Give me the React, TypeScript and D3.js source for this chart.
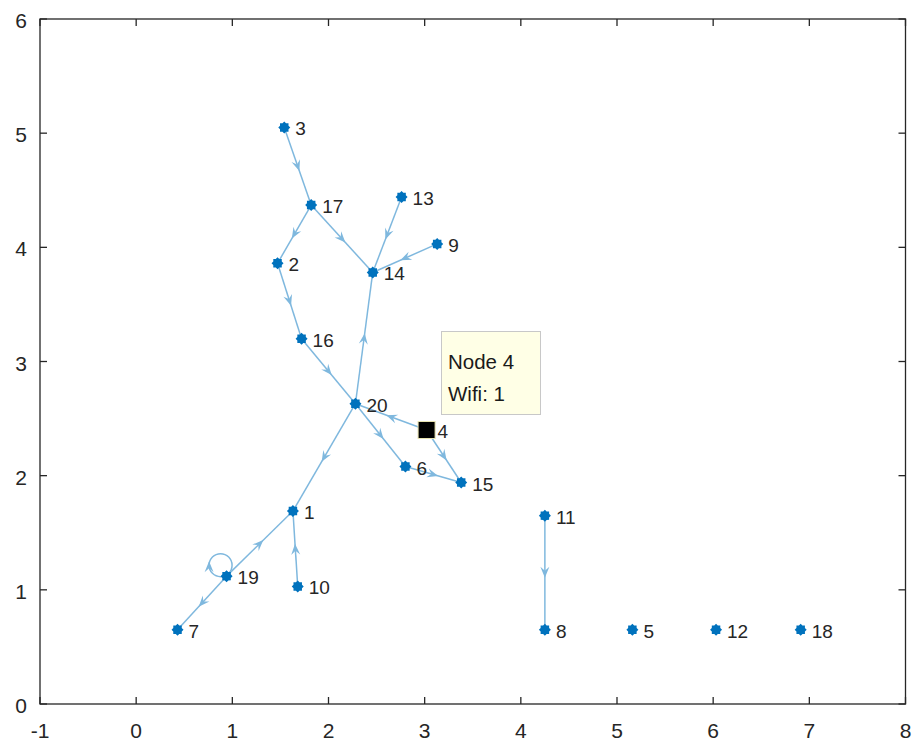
import React from "react";
import * as d3 from "d3";

const nodeIds = [1, 2, 3, 4, 5, 6, 7, 8, 9, 10, 11, 12, 13, 14, 15, 16, 17, 18, 19, 20];
const nodeX = [1.63, 1.47, 1.54, 3.02, 5.16, 2.8, 0.43, 4.25, 3.13, 1.68, 4.25, 6.03, 2.76, 2.46, 3.38, 1.72, 1.82, 6.91, 0.94, 2.28];
const nodeY = [1.69, 3.86, 5.05, 2.4, 0.65, 2.08, 0.65, 0.65, 4.03, 1.03, 1.65, 0.65, 4.44, 3.78, 1.94, 3.2, 4.37, 0.65, 1.12, 2.63];
const edgeSource = [3, 17, 17, 13, 9, 2, 16, 20, 20, 4, 4, 6, 20, 19, 10, 19, 11, 19];
const edgeTarget = [17, 2, 14, 14, 14, 16, 20, 14, 6, 20, 15, 15, 1, 1, 1, 7, 8, 19];
const xTicks = [-1, 0, 1, 2, 3, 4, 5, 6, 7, 8];
const yTicks = [0, 1, 2, 3, 4, 5, 6];
const highlightNode = 4;
const tipLines = ["Node 4", "Wifi: 1"];

const W = 917, H = 746;
const axisColor = "#262626";
const edgeColor = "#7FB8DE";
const nodeColor = "#0072BD";
const font = "Liberation Sans, Arial, Helvetica, sans-serif";

function starPath(ro: number, ri: number, n: number) {
  const pts: string[] = [];
  for (let i = 0; i < 2 * n; i++) {
    const r = i % 2 === 0 ? ro : ri;
    const a = (Math.PI * i) / n;
    pts.push(`${(r * Math.cos(a)).toFixed(2)},${(r * Math.sin(a)).toFixed(2)}`);
  }
  return "M" + pts.join("L") + "Z";
}

const arrowPath = "M0,0L-11,-4.5L-7,0L-11,4.5Z";

export default function App() {
  const x = d3.scaleLinear().domain([-1, 8]).range([40, 905.5]);
  const y = d3.scaleLinear().domain([0, 6]).range([704, 19]);
  const px = (id: number) => x(nodeX[id - 1]);
  const py = (id: number) => y(nodeY[id - 1]);
  const marker = starPath(6, 4.6, 8);

  const edges = edgeSource.map((s, i) => ({ s, t: edgeTarget[i] }));

  return (
    <svg width={W} height={H} style={{ position: "absolute", left: 0, top: 0, background: "#fff" }}>
      <rect x={0} y={0} width={W} height={H} fill="#fff" />
      {edges.map((e, i) => {
        if (e.s === e.t) {
          const cx = px(e.s) - 6, cy = py(e.s) - 11, r = 11.5;
          return (
            <g key={i}>
              <circle cx={cx} cy={cy} r={r} fill="none" stroke={edgeColor} strokeWidth={1.5} />
              <path d={arrowPath} fill={edgeColor} transform={`translate(${cx - r},${cy - 4}) rotate(-90)`} />
            </g>
          );
        }
        const x1 = px(e.s), y1 = py(e.s), x2 = px(e.t), y2 = py(e.t);
        const ang = Math.atan2(y2 - y1, x2 - x1);
        const mx = (x1 + x2) / 2 + Math.cos(ang) * 5;
        const my = (y1 + y2) / 2 + Math.sin(ang) * 5;
        return (
          <g key={i}>
            <line x1={x1} y1={y1} x2={x2} y2={y2} stroke={edgeColor} strokeWidth={1.5} />
            <path d={arrowPath} fill={edgeColor} transform={`translate(${mx},${my}) rotate(${(ang * 180) / Math.PI})`} />
          </g>
        );
      })}
      {nodeIds.map((id) =>
        id === highlightNode ? (
          <rect key={id} x={px(id) - 8.5} y={py(id) - 8.5} width={17} height={17} fill="#000" stroke="#e8e3b0" strokeWidth={1} />
        ) : (
          <path key={id} d={marker} fill={nodeColor} transform={`translate(${px(id)},${py(id)})`} />
        )
      )}
      {nodeIds.map((id) => (
        <text key={"l" + id} x={px(id) + 11} y={py(id) + 8} fontFamily={font} fontSize={19} fill={axisColor}>
          {id}
        </text>
      ))}
      <g>
        <rect x={441.5} y={331.5} width={99} height={83} fill="#FFFFE6" stroke="#c8c8c8" strokeWidth={1} />
        {tipLines.map((t, i) => (
          <text key={t} x={448} y={369 + i * 32} fontFamily={font} fontSize={20.5} fill="#1a1a1a">
            {t}
          </text>
        ))}
      </g>
      <rect x={40} y={19} width={865.5} height={685} fill="none" stroke={axisColor} strokeWidth={1.3} />
      {xTicks.map((t) => (
        <g key={"x" + t}>
          <line x1={x(t)} x2={x(t)} y1={704} y2={697} stroke={axisColor} strokeWidth={1.3} />
          <line x1={x(t)} x2={x(t)} y1={19} y2={26} stroke={axisColor} strokeWidth={1.3} />
          <text x={x(t)} y={738} textAnchor="middle" fontFamily={font} fontSize={21} fill={axisColor}>
            {t}
          </text>
        </g>
      ))}
      {yTicks.map((t) => (
        <g key={"y" + t}>
          <line x1={40} x2={47} y1={y(t)} y2={y(t)} stroke={axisColor} strokeWidth={1.3} />
          <line x1={905.5} x2={898.5} y1={y(t)} y2={y(t)} stroke={axisColor} strokeWidth={1.3} />
          <text x={27} y={y(t) + 9} textAnchor="end" fontFamily={font} fontSize={21} fill={axisColor}>
            {t}
          </text>
        </g>
      ))}
    </svg>
  );
}
